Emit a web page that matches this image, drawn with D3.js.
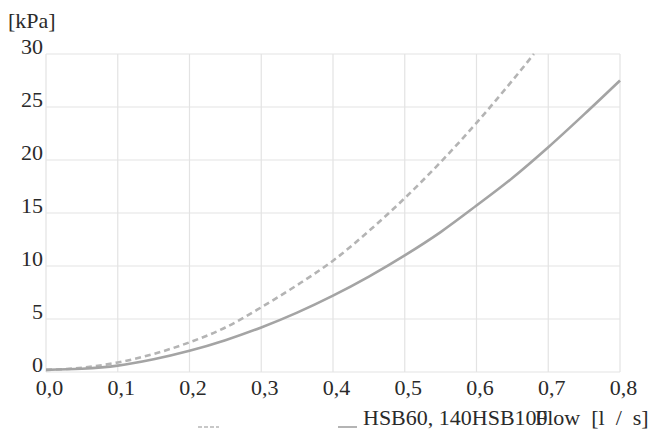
<!DOCTYPE html>
<html>
<head>
<meta charset="utf-8">
<script src="https://cdn.jsdelivr.net/npm/d3@7"></script>
<style>
  body { margin: 0; background: #fff; }
  text { font-family: "Liberation Serif", "DejaVu Serif", serif; fill: #2a2a2a; }
</style>
</head>
<body>
<div id="chart"></div>
<script>
// flow [l/s] and pressure drop [kPa]
const flowSolid = [0, 0.05, 0.1, 0.15, 0.2, 0.25, 0.3, 0.35, 0.4, 0.45, 0.5, 0.55, 0.6, 0.65, 0.7, 0.75, 0.8];
const kpaSolid  = [0.2, 0.3, 0.6, 1.2, 2.0, 3.0, 4.2, 5.6, 7.2, 9.0, 11.0, 13.2, 15.7, 18.3, 21.2, 24.3, 27.5];
const flowDashed = [0, 0.05, 0.1, 0.15, 0.2, 0.25, 0.3, 0.35, 0.4, 0.45, 0.5, 0.55, 0.6, 0.65, 0.68];
const kpaDashed  = [0.2, 0.4, 0.9, 1.7, 2.8, 4.2, 6.1, 8.2, 10.5, 13.3, 16.4, 19.8, 23.5, 27.5, 30.0];
const xTicks = [0, 0.1, 0.2, 0.3, 0.4, 0.5, 0.6, 0.7, 0.8];
const yTicks = [0, 5, 10, 15, 20, 25, 30];
const legendLabels = ["HSB60, 140", "HSB100"];

const width = 662;
const height = 434;
const margin = {top: 54, right: 42, bottom: 62, left: 46};
const fontSize = 22;

const svg = d3.select('#chart')
  .append('svg')
  .attr('width', width)
  .attr('height', height);

const x = d3.scaleLinear()
  .domain([0, 0.8])
  .range([margin.left, width - margin.right]);

const y = d3.scaleLinear()
  .domain([0, 30])
  .range([height - margin.bottom, margin.top]);

const fmt = d3.format('.1f');

// grid
const grid = svg.append('g').attr('class', 'grid');
grid.selectAll('.vline')
  .data(xTicks)
  .enter()
  .append('line')
  .attr('x1', (d) => x(d))
  .attr('x2', (d) => x(d))
  .attr('y1', y(0))
  .attr('y2', y(30))
  .attr('stroke', '#e3e3e3')
  .attr('stroke-width', 1.2);

grid.selectAll('.hline')
  .data(yTicks)
  .enter()
  .append('line')
  .attr('x1', x(0))
  .attr('x2', x(0.8))
  .attr('y1', (d) => y(d))
  .attr('y2', (d) => y(d))
  .attr('stroke', '#e3e3e3')
  .attr('stroke-width', 1.2);

// axes (labels only)
const xAxis = svg.append('g')
  .attr('transform', `translate(0, ${y(0)})`)
  .call(d3.axisBottom(x).tickValues(xTicks).tickSize(0).tickPadding(7)
    .tickFormat((d) => fmt(d).replace('.', ',')));
xAxis.select('.domain').remove();
xAxis.selectAll('text')
  .attr('font-family', '"Liberation Serif", serif')
  .attr('font-size', fontSize)
  .attr('dx', 3);

const yAxis = svg.append('g')
  .attr('transform', `translate(${x(0)}, 0)`)
  .call(d3.axisLeft(y).tickValues(yTicks).tickSize(0).tickPadding(3));
yAxis.select('.domain').remove();
yAxis.selectAll('text')
  .attr('font-family', '"Liberation Serif", serif')
  .attr('font-size', fontSize)
  .attr('dy', '-0.03em');

svg.append('text')
  .attr('x', 8)
  .attr('y', 28)
  .attr('font-size', fontSize)
  .text('[kPa]');

svg.append('text')
  .attr('x', 535)
  .attr('y', 425)
  .attr('font-size', fontSize)
  .attr('xml:space', 'preserve')
  .text('Flow  [l  /  s]');

// curves
const line = d3.line()
  .x((d) => x(d[0]))
  .y((d) => y(d[1]))
  .curve(d3.curveMonotoneX);

svg.append('path')
  .datum(d3.zip(flowDashed, kpaDashed))
  .attr('d', line)
  .attr('fill', 'none')
  .attr('stroke', '#b4b4b4')
  .attr('stroke-width', 2.6)
  .attr('stroke-dasharray', '6,4');

svg.append('path')
  .datum(d3.zip(flowSolid, kpaSolid))
  .attr('d', line)
  .attr('fill', 'none')
  .attr('stroke', '#a4a4a4')
  .attr('stroke-width', 2.6);

// legend
const legend = svg.append('g').attr('class', 'legend');
legend.append('line')
  .attr('x1', 198).attr('x2', 219)
  .attr('y1', 427).attr('y2', 427)
  .attr('stroke', '#c8c8c8')
  .attr('stroke-width', 2)
  .attr('stroke-dasharray', '4,2');

legend.append('line')
  .attr('x1', 338).attr('x2', 357)
  .attr('y1', 427).attr('y2', 427)
  .attr('stroke', '#b4b4b4')
  .attr('stroke-width', 2);

const legendText = legend.append('text')
  .attr('x', 363)
  .attr('y', 425)
  .attr('font-size', fontSize);
legendLabels.forEach((label) => {
  legendText.append('tspan').text(label);
});
</script>
</body>
</html>
